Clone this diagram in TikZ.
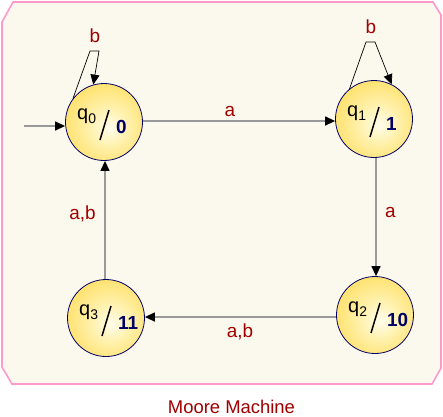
\documentclass[tikz,border=0pt]{standalone}
\usepackage{fontspec}
\setmainfont{Liberation Sans}
\usetikzlibrary{arrows.meta}
\definecolor{lab}{HTML}{A00000}
\definecolor{navy}{HTML}{000066}
\definecolor{edgegray}{HTML}{999999}
\definecolor{framepink}{HTML}{FF99CC}
\definecolor{bgcream}{HTML}{FBF9EE}
\definecolor{ballin}{HTML}{FFFCEC}
\definecolor{ballmid}{HTML}{FFF2B0}
\definecolor{ballout}{HTML}{FFCA10}
\pgfdeclareradialshading{ball}{\pgfpoint{4bp}{-4bp}}{color(0bp)=(ballin); color(12bp)=(ballmid); color(50bp)=(ballout)}
\newcommand{\sbs}[1]{\raisebox{-4.5bp}{\fontsize{14}{14}\selectfont #1}}
\tikzset{
  state/.style={circle, draw=navy, line width=0.8bp, minimum size=77bp, inner sep=0pt, shading=ball},
  qtxt/.style={inner sep=0pt, anchor=base west, font=\fontsize{20}{20}\selectfont},
  numtxt/.style={inner sep=0pt, anchor=base west, text=navy, font=\fontsize{19}{19}\selectfont\bfseries},
  slash/.style={draw=black, line width=1.5bp},
  edge/.style={draw=edgegray, line width=1.3bp, -{Triangle[length=10bp,width=9bp,color=black]}},
  loopedge/.style={draw=black, line width=0.7bp, -{Triangle[length=10bp,width=9bp,color=black]}},
  elabel/.style={inner sep=0pt, text=lab, font=\fontsize{19}{19}\selectfont},
}
\begin{document}
\begin{tikzpicture}[x=1bp, y=-1bp]
\useasboundingbox (0,0) rectangle (443,416);
% frame
\draw[framepink, line width=1.6bp, fill=bgcream]
  (2,22) -- (13,2) -- (433,2) -- (441,15) -- (441,368) -- (432,384) -- (12,384) -- (2,367) -- cycle;
% states
\node[state] (q0) at (104,122) {};
\node[state] (q1) at (374,119) {};
\node[state] (q2) at (375,315) {};
\node[state] (q3) at (106,318) {};
\foreach \s/\i/\o in {q0/0/0, q1/1/1, q2/2/10, q3/3/11}{
  \node[qtxt] (\s q) at ([shift={(-27,-3)}]\s.center) {q\sbs{\i}};
  \draw[slash] ([shift={(5,-12)}]\s.center) -- ([shift={(-4,18)}]\s.center);
  \node[numtxt] (\s o) at ([shift={(12,11)}]\s.center) {\o};
}
% initial arrow
\coordinate (init) at (24,126);
\draw[edge] (init) -- (q0.west |- init);
% transitions
\draw[edge] (q0.east |- 0,121) -- (q1.west |- 0,121);
\draw[edge] (q1.south -| 376,0) -- (q2.north -| 376,0);
\draw[edge] (q2.west |- 0,317) -- (q3.east |- 0,317);
\draw[edge] (q3.north -| 105,0) -- (q0.south -| 105,0);
% self loops
\draw[loopedge] (q0.143) -- ([shift={(-14,-71)}]q0.center) -- ([shift={(-5,-71)}]q0.center) -- (q0.106);
\draw[loopedge] (q1.129) -- ([shift={(-8,-77)}]q1.center) -- ([shift={(1,-77)}]q1.center) -- (q1.63);
% labels
\node[elabel] (lb0) at (95,36) {b};
\node[elabel] (lb1) at (371,27) {b};
\node[elabel, anchor=base] (la01) at (230,116) {a};
\node[elabel, anchor=base] (la12) at (390.5,217) {a};
\node[elabel, anchor=base] (la23) at (240,337) {a,b};
\node[elabel, anchor=base] (la30) at (82.5,219) {a,b};
\node[elabel, anchor=base, font=\fontsize{18.5}{18.5}\selectfont] (cap) at (231.5,413) {Moore Machine};
\end{tikzpicture}
\end{document}
